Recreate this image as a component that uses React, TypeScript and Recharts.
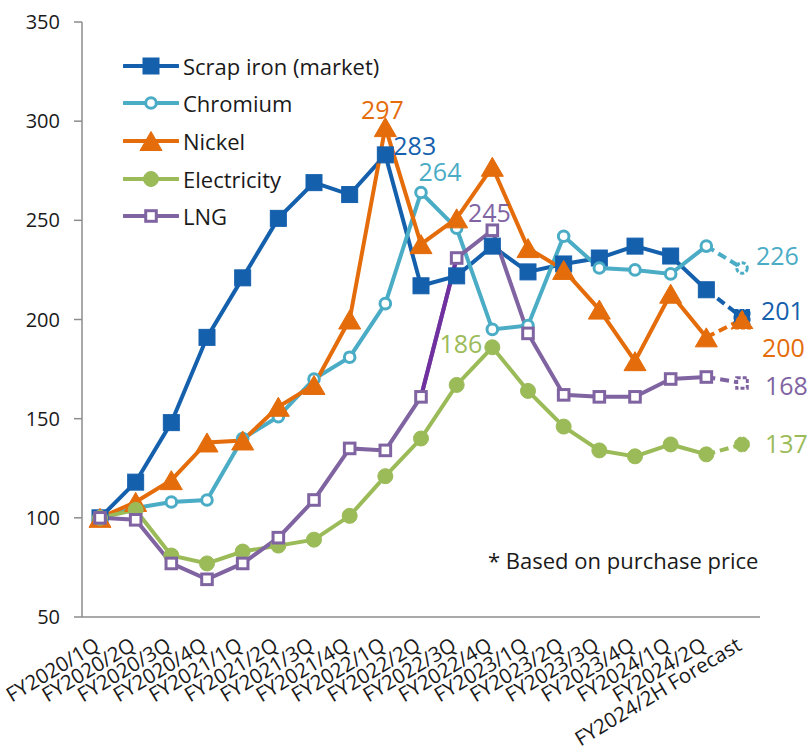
import React from 'react';
import { LineChart, Line, XAxis, YAxis } from 'recharts';

const categories = [
  'FY2020/1Q', 'FY2020/2Q', 'FY2020/3Q', 'FY2020/4Q',
  'FY2021/1Q', 'FY2021/2Q', 'FY2021/3Q', 'FY2021/4Q',
  'FY2022/1Q', 'FY2022/2Q', 'FY2022/3Q', 'FY2022/4Q',
  'FY2023/1Q', 'FY2023/2Q', 'FY2023/3Q', 'FY2023/4Q',
  'FY2024/1Q', 'FY2024/2Q', 'FY2024/2H Forecast',
];
const scrapIron = [100, 118, 148, 191, 221, 251, 269, 263, 283, 217, 222, 237, 224, 228, 231, 237, 232, 215, 201];
const chromium = [100, 105, 108, 109, 140, 151, 170, 181, 208, 264, 246, 195, 197, 242, 226, 225, 223, 237, 226];
const nickel = [100, 108, 119, 138, 139, 156, 167, 200, 297, 238, 251, 277, 236, 225, 205, 179, 213, 191, 200];
const electricity = [100, 104, 81, 77, 83, 86, 89, 101, 121, 140, 167, 186, 164, 146, 134, 131, 137, 132, 137];
const lng = [100, 99, 77, 69, 77, 90, 109, 135, 134, 161, 231, 245, 193, 162, 161, 161, 170, 171, 168];
const yTicks = [50, 100, 150, 200, 250, 300, 350];
const lngHighlightIdx = [9, 10];
const note = '* Based on purchase price';

const FONT = '"Open Sans", "Noto Sans", sans-serif';
const LAST = categories.length - 1;

type Shape = 'square' | 'circle' | 'triangle' | 'dot' | 'openSquare';
interface Series {
  key: string; name: string; values: number[]; color: string; shape: Shape;
  peak: number; peakLbl: { dx: number; dy: number; anchor: string };
  endLbl: { dx: number; dy: number };
}

const SERIES: Series[] = [
  { key: 'scrap', name: 'Scrap iron (market)', values: scrapIron, color: '#1560ad', shape: 'square', peak: 8, peakLbl: { dx: 8, dy: -9, anchor: 'start' }, endLbl: { dx: 19, dy: -7 } },
  { key: 'chromium', name: 'Chromium', values: chromium, color: '#4bacc6', shape: 'circle', peak: 9, peakLbl: { dx: 19, dy: -21, anchor: 'middle' }, endLbl: { dx: 14, dy: -12 } },
  { key: 'nickel', name: 'Nickel', values: nickel, color: '#e46c0a', shape: 'triangle', peak: 8, peakLbl: { dx: -3, dy: -17, anchor: 'middle' }, endLbl: { dx: 20, dy: 28 } },
  { key: 'electricity', name: 'Electricity', values: electricity, color: '#9bbb59', shape: 'dot', peak: 11, peakLbl: { dx: -10, dy: -3, anchor: 'end' }, endLbl: { dx: 23, dy: 0 } },
  { key: 'lng', name: 'LNG', values: lng, color: '#8064a2', shape: 'openSquare', peak: 11, peakLbl: { dx: -3, dy: -17, anchor: 'middle' }, endLbl: { dx: 23, dy: 3 } },
];

const data = categories.map((c, i) => {
  const row: any = { category: c };
  SERIES.forEach((s) => {
    row[s.key] = i < LAST ? s.values[i] : null;
    row[s.key + 'F'] = i >= LAST - 1 ? s.values[i] : null;
    row[s.key + 'All'] = s.values[i];
  });
  row.lngHi = lngHighlightIdx.includes(i) ? lng[i] : null;
  return row;
});

function marker(shape: Shape, cx: number, cy: number, color: string, dashed = false) {
  const da = dashed ? '4 2' : undefined;
  switch (shape) {
    case 'square':
      return <rect x={cx - 8} y={cy - 8} width={16} height={16} fill={color} stroke={color} strokeWidth={1} strokeDasharray={da} />;
    case 'circle':
      return <circle cx={cx} cy={cy} r={5.3} fill="#fff" stroke={color} strokeWidth={3} strokeDasharray={da} />;
    case 'triangle':
      return <polygon points={`${cx},${cy - 9.5} ${cx + 11},${cy + 9.5} ${cx - 11},${cy + 9.5}`} fill={color} stroke={color} strokeWidth={1} strokeDasharray={da} />;
    case 'dot':
      return <circle cx={cx} cy={cy} r={7.5} fill={color} stroke={color} strokeWidth={1} strokeDasharray={da} />;
    case 'openSquare':
    default:
      return <rect x={cx - 5.3} y={cy - 5.3} width={10.6} height={10.6} fill="#fff" stroke={color} strokeWidth={3} strokeDasharray={da} />;
  }
}

const mainDot = (s: Series) => (p: any) => {
  const k = `m-${s.key}-${p.index}`;
  if (p.cx == null || p.cy == null || p.payload?.[s.key] == null) return <g key={k} />;
  return <g key={k}>{marker(s.shape, p.cx, p.cy, s.color)}</g>;
};

const forecastDot = (s: Series) => (p: any) => {
  const k = `f-${s.key}-${p.index}`;
  if (p.index !== LAST || p.cx == null || p.cy == null) return <g key={k} />;
  return <g key={k}>{marker(s.shape, p.cx, p.cy, s.color, true)}</g>;
};

const labelDot = (s: Series) => (p: any) => {
  const k = `l-${s.key}-${p.index}`;
  if (p.cx == null || p.cy == null) return <g key={k} />;
  const v = s.values[p.index];
  if (p.index === s.peak) {
    return (
      <text key={k} x={p.cx + s.peakLbl.dx} y={p.cy + s.peakLbl.dy} dy="0.36em" textAnchor={s.peakLbl.anchor as any}
        fontSize={25} fontFamily={FONT} fill={s.color}>{v}</text>
    );
  }
  if (p.index === LAST) {
    return (
      <text key={k} x={p.cx + s.endLbl.dx} y={p.cy + s.endLbl.dy} dy="0.36em" textAnchor="start"
        fontSize={25} fontFamily={FONT} fill={s.color}>{v}</text>
    );
  }
  return <g key={k} />;
};

const XTick = (props: any) => {
  const { x, y, payload } = props;
  const ax = x + 1;
  const ay = y + 32;
  return (
    <text x={ax} y={ay} transform={`rotate(-31, ${ax}, ${ay})`} textAnchor="end" fontSize={20.5}
      fontFamily={FONT} fill="#1a1a1a">{payload.value}</text>
  );
};

const AXIS = '#8c8c8c';

export default function App() {
  return (
    <div style={{ position: 'absolute', left: 0, top: 0, width: 809, height: 753, overflow: 'hidden', fontFamily: FONT, background: '#fff' }}>
      <LineChart width={809} height={753} data={data} margin={{ top: 22, right: 49, bottom: 16, left: 8 }}>
        <XAxis dataKey="category" scale="point" padding={{ left: 18, right: 18 }} interval={0}
          tickLine={false} tickSize={0} tickMargin={0} height={120}
          axisLine={{ stroke: AXIS, strokeWidth: 1.5 }} tick={<XTick />} />
        <YAxis type="number" domain={[50, 350]} ticks={yTicks} interval={0} width={74}
          tickSize={8} tickMargin={14} axisLine={{ stroke: AXIS, strokeWidth: 1.5 }}
          tickLine={{ stroke: AXIS, strokeWidth: 1.5 }}
          tick={{ fontSize: 20, fill: '#1a1a1a', fontFamily: FONT }} />
        {SERIES.map((s) => (
          <Line key={s.key} dataKey={s.key} type="linear" stroke={s.color} strokeWidth={4}
            dot={s.key === 'lng' ? false : mainDot(s)} activeDot={false} isAnimationActive={false} connectNulls={false} />
        ))}
        <Line key="lngHi" dataKey="lngHi" type="linear" stroke="#7030a0" strokeWidth={4} dot={false}
          activeDot={false} isAnimationActive={false} />
        <Line key="lngDots" dataKey="lng" type="linear" stroke="none" dot={mainDot(SERIES[4])}
          activeDot={false} isAnimationActive={false} />
        {SERIES.map((s) => (
          <Line key={s.key + 'F'} dataKey={s.key + 'F'} type="linear" stroke={s.color} strokeWidth={4}
            strokeDasharray="9 5" dot={forecastDot(s)} activeDot={false} isAnimationActive={false} />
        ))}
        {SERIES.map((s) => (
          <Line key={s.key + 'L'} dataKey={s.key + 'All'} type="linear" stroke="none" dot={labelDot(s)}
            activeDot={false} isAnimationActive={false} />
        ))}
      </LineChart>
      <div style={{ position: 'absolute', left: 123, top: 46.85 }}>
        {SERIES.map((s) => (
          <div key={s.key} style={{ display: 'flex', alignItems: 'center', height: 37.7 }}>
            <svg width={56} height={24} style={{ display: 'block' }}>
              <line x1={1} y1={12} x2={55} y2={12} stroke={s.color} strokeWidth={4} strokeLinecap="round" />
              {marker(s.shape, 28, 12, s.color)}
            </svg>
            <span style={{ marginLeft: 4, fontSize: 22, color: '#1a1a1a', lineHeight: '26px', whiteSpace: 'nowrap' }}>{s.name}</span>
          </div>
        ))}
      </div>
      <div style={{ position: 'absolute', left: 488, top: 547, fontSize: 22, lineHeight: '26px', color: '#1a1a1a', whiteSpace: 'nowrap' }}>
        {note}
      </div>
    </div>
  );
}
